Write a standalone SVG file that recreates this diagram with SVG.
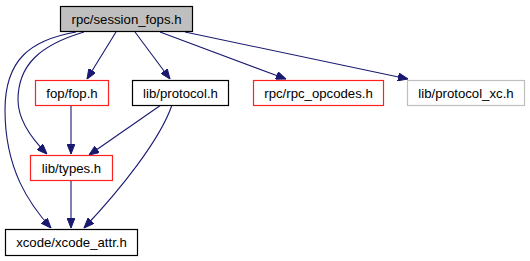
<svg xmlns="http://www.w3.org/2000/svg" width="530" height="261" viewBox="0 0 530 261">
  <style>
    .box rect { stroke-width: 1.2; }
    .box text { font-family: "Liberation Sans", Arial, sans-serif; font-size: 13.2px; fill: #000; text-anchor: middle; }
    .main rect { fill: #bfbfbf; stroke: #000; }
    .plain rect { fill: #fff; stroke: #000; }
    .red rect { fill: #fff; stroke: #ff2020; }
    .grey rect { fill: #fff; stroke: #bfbfbf; }
    #edges path { fill: none; stroke: #191970; stroke-width: 1.1; marker-end: url(#arrow); }
  </style>
  <defs>
    <marker id="arrow" viewBox="0 0 10 8" refX="10" refY="4" markerWidth="10" markerHeight="8" markerUnits="userSpaceOnUse" orient="auto">
      <path d="M0,0 L10,4 L0,8 Z" fill="#191970" stroke="#191970"/>
    </marker>
  </defs>
  <rect width="530" height="261" fill="#fff"/>

  <g id="edges">
    <path d="M116,32 L87,79"/>
    <path d="M135,32 L170,79"/>
    <path d="M160,32 L286,79"/>
    <path d="M185,32 L408,79"/>
    <path d="M84,32 C40,45 18,65 18,100 C18,120 33,140 47,154"/>
    <path d="M76,32 C30,40 5,60 5,110 C5,170 30,205 51,228"/>
    <path d="M71,105 L71,154"/>
    <path d="M161,105 L89,155"/>
    <path d="M172,105 C160,140 120,190 84,228"/>
    <path d="M71,181 L71,228"/>
  </g>

  <g id="session_fops" class="box main">
    <rect x="60.5" y="6.5" width="132" height="25"/>
    <text x="126.5" y="23.5">rpc/session_fops.h</text>
  </g>
  <g id="fop" class="box red">
    <rect x="35.5" y="80.5" width="73" height="25"/>
    <text x="72" y="97.5">fop/fop.h</text>
  </g>
  <g id="protocol" class="box plain">
    <rect x="132.5" y="80.5" width="96" height="25"/>
    <text x="180.5" y="97.5">lib/protocol.h</text>
  </g>
  <g id="rpc_opcodes" class="box red">
    <rect x="253.5" y="80.5" width="130" height="25"/>
    <text x="318.5" y="97.5">rpc/rpc_opcodes.h</text>
  </g>
  <g id="protocol_xc" class="box grey">
    <rect x="407.5" y="80.5" width="117" height="25"/>
    <text x="466" y="97.5">lib/protocol_xc.h</text>
  </g>
  <g id="types" class="box red">
    <rect x="30.5" y="155.5" width="82" height="25"/>
    <text x="71.5" y="172.5">lib/types.h</text>
  </g>
  <g id="xcode_attr" class="box plain">
    <rect x="5.5" y="229.5" width="132" height="26"/>
    <text x="71.5" y="247">xcode/xcode_attr.h</text>
  </g>
</svg>
